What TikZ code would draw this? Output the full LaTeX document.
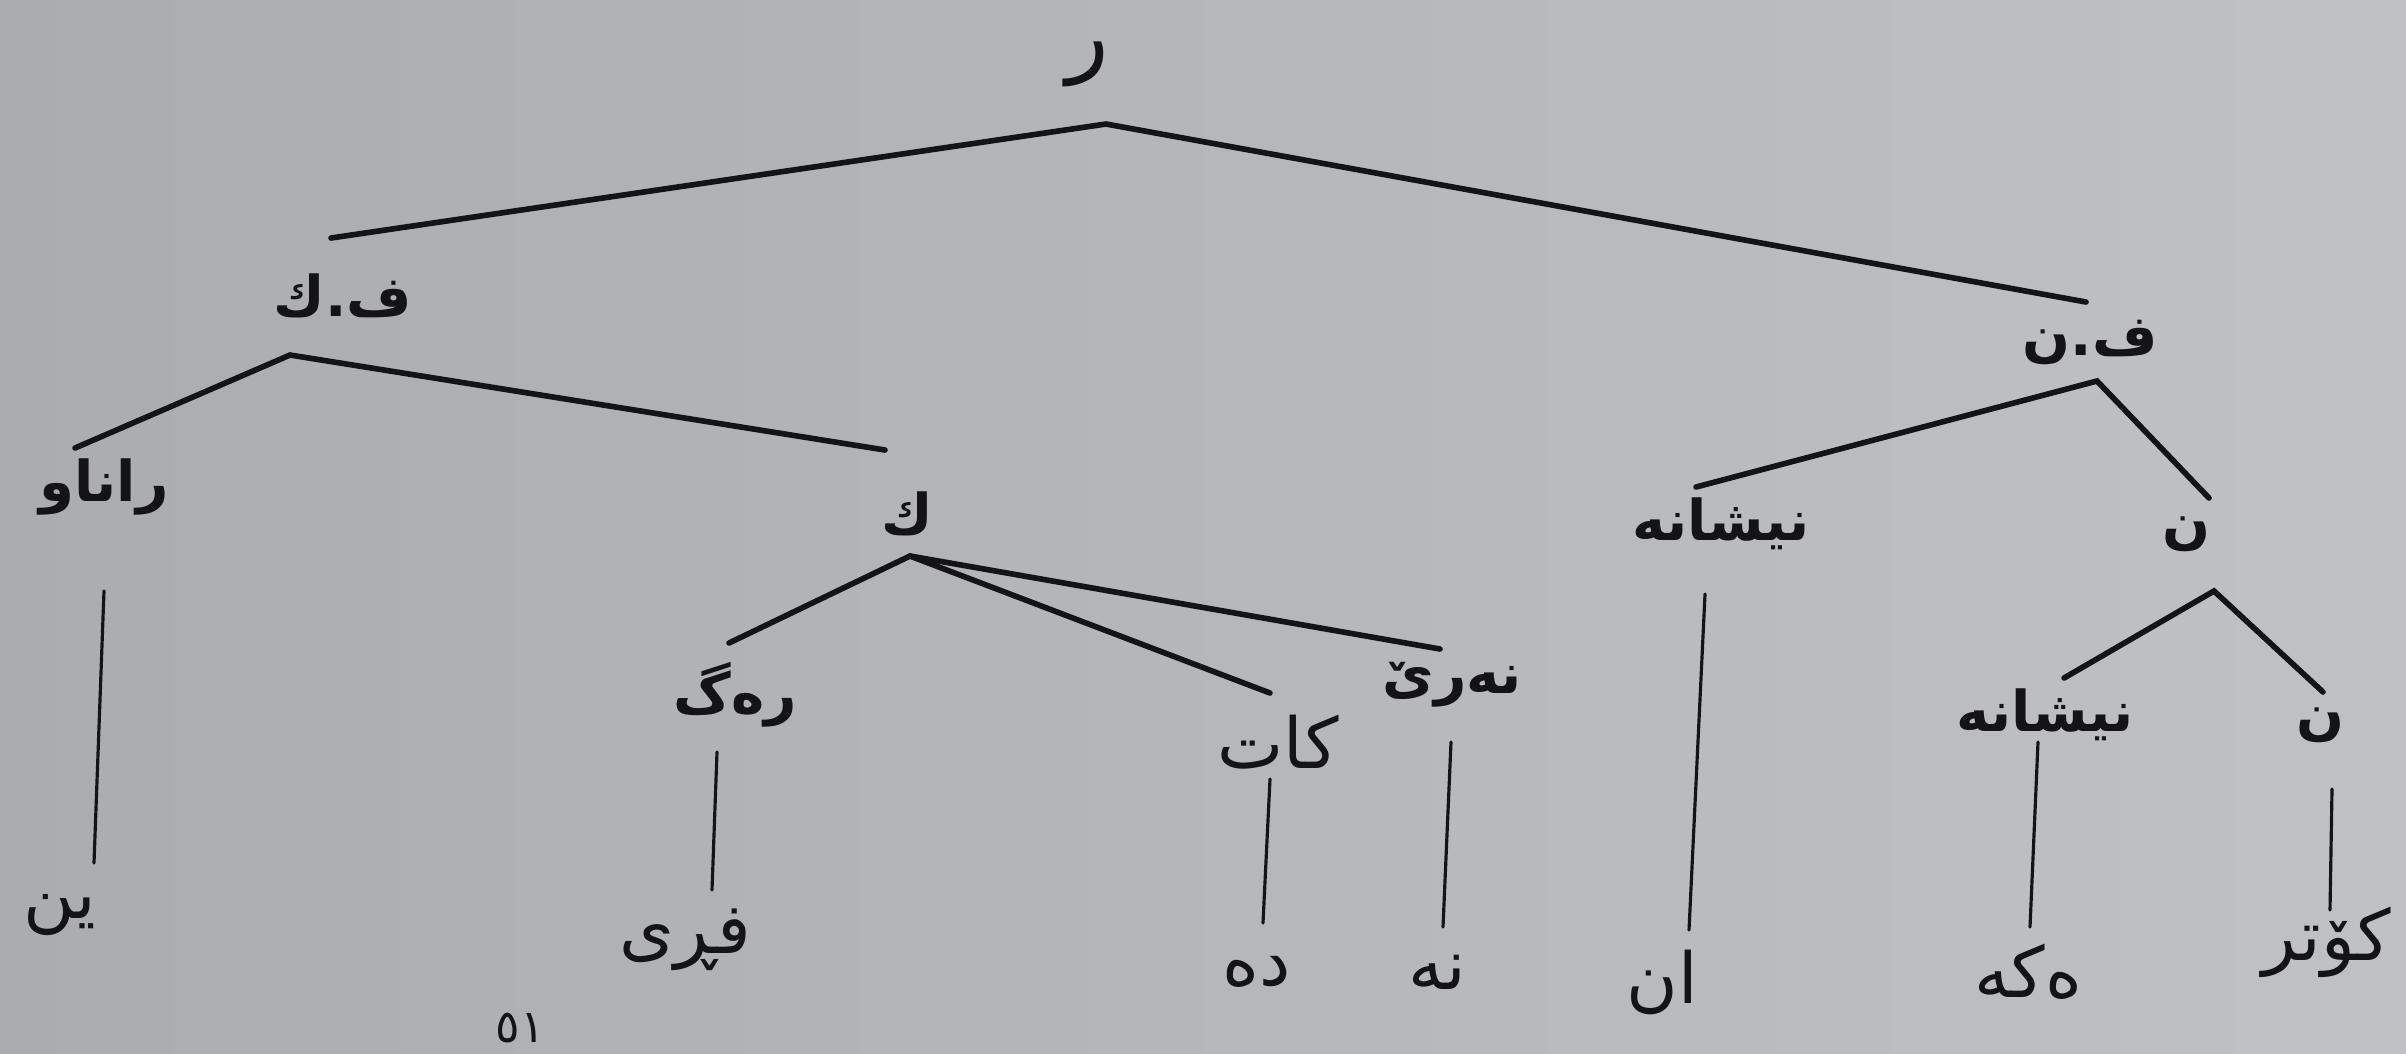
\documentclass[tikz,border=0pt]{standalone}
\usepackage{fontspec}
\newfontfamily\arabicfont[Script=Arabic]{DejaVu Sans}
\TeXXeTstate=1
\newcommand\artx[1]{\beginR #1\endR}
\definecolor{ink}{RGB}{20,20,22}
\definecolor{bgl}{RGB}{170,172,176}
\definecolor{bgr}{RGB}{191,193,196}
\tikzset{
  lbl/.style={inner sep=0pt, text=ink, font=\arabicfont\bfseries\fontsize{16}{19}\selectfont},
  leaf/.style={inner sep=0pt, text=ink, font=\arabicfont\fontsize{20}{24}\selectfont},
  rootlbl/.style={inner sep=0pt, text=ink, font=\arabicfont\fontsize{25}{28}\selectfont},
  pgnum/.style={inner sep=0pt, text=ink, font=\arabicfont\fontsize{13}{15}\selectfont},
  br/.style={draw=ink, line width=1.6pt, line cap=round},
  vl/.style={draw=ink, line width=0.9pt, line cap=round},
}
\begin{document}
\begin{tikzpicture}[x=0.01cm,y=-0.01cm]
\shade[left color=bgl, right color=bgr] (0,0) rectangle (2406,1053);
\useasboundingbox (0,0) rectangle (2406,1053);

% ---- labels ----
\node[rootlbl] (root) at (1088,64) {\artx{ر}};
\node[lbl] (fk) at (343,296) {\artx{ف.ك}};
\node[lbl] (fn) at (2090,342) {\artx{ف.ن}};
\node[lbl] (ranaw) at (104,487) {\artx{راناو}};
\node[lbl] (k) at (907,514) {\artx{ك}};
\node[lbl] (rag) at (735,695) {\artx{رەگ}};
\node[leaf] (kat) at (1278,742) {\artx{کات}};
\node[lbl] (nar) at (1452,685) {\artx{نەرێ}};
\node[lbl] (nishA) at (1721,524) {\artx{نیشانە}};
\node[lbl] (nA) at (2186,534) {\artx{ن}};
\node[lbl] (nishB) at (2045,715) {\artx{نیشانە}};
\node[lbl] (nB) at (2320,725) {\artx{ن}};
% leaves
\node[leaf] (yin) at (60,915) {\artx{ین}};
\node[leaf] (fri) at (685,940) {\artx{فڕی}};
\node[leaf] (de) at (1257,972) {\artx{دە}};
\node[leaf] (ne) at (1437,972) {\artx{نە}};
\node[leaf] (an) at (1662,982) {\artx{ان}};
\node[leaf] (eke) at (2028,972) {\artx{ەکە}};
\node[leaf] (kotr) at (2327,942) {\artx{کۆتر}};
\node[pgnum] (pg) at (520,1028) {٥١};

% ---- attachment points ----
\coordinate (root-b) at (1106,124);
\coordinate (fk-t) at (331,238);
\coordinate (fk-b) at (290,355);
\coordinate (fn-t) at (2086,302);
\coordinate (fn-b) at (2097,381);
\coordinate (ranaw-t) at (75,448);
\coordinate (ranaw-b) at (104,591);
\coordinate (k-t) at (885,450);
\coordinate (k-b) at (910,556);
\coordinate (rag-t) at (729,643);
\coordinate (rag-b) at (717,752);
\coordinate (kat-t) at (1270,693);
\coordinate (kat-b) at (1270,779);
\coordinate (nar-t) at (1440,649);
\coordinate (nar-b) at (1451,742);
\coordinate (nishA-t) at (1696,487);
\coordinate (nishA-b) at (1705,594);
\coordinate (nA-t) at (2209,498);
\coordinate (nA-b) at (2214,591);
\coordinate (nishB-t) at (2064,678);
\coordinate (nishB-b) at (2038,742);
\coordinate (nB-t) at (2323,692);
\coordinate (nB-b) at (2332,789);
\coordinate (yin-t) at (94,863);
\coordinate (fri-t) at (712,890);
\coordinate (de-t) at (1263,923);
\coordinate (ne-t) at (1443,927);
\coordinate (an-t) at (1689,930);
\coordinate (eke-t) at (2030,927);
\coordinate (kotr-t) at (2330,910);

% ---- branches ----
\draw[br] (fk-t) -- (root-b) -- (fn-t);
\draw[br] (ranaw-t) -- (fk-b) -- (k-t);
\draw[br] (rag-t) -- (k-b) -- (kat-t);
\draw[br] (k-b) -- (nar-t);
\draw[br] (nishA-t) -- (fn-b) -- (nA-t);
\draw[br] (nishB-t) -- (nA-b) -- (nB-t);
% ---- vertical strokes to leaves ----
\draw[vl] (ranaw-b) -- (yin-t);
\draw[vl] (rag-b) -- (fri-t);
\draw[vl] (kat-b) -- (de-t);
\draw[vl] (nar-b) -- (ne-t);
\draw[vl] (nishA-b) -- (an-t);
\draw[vl] (nishB-b) -- (eke-t);
\draw[vl] (nB-b) -- (kotr-t);
\end{tikzpicture}
\end{document}
